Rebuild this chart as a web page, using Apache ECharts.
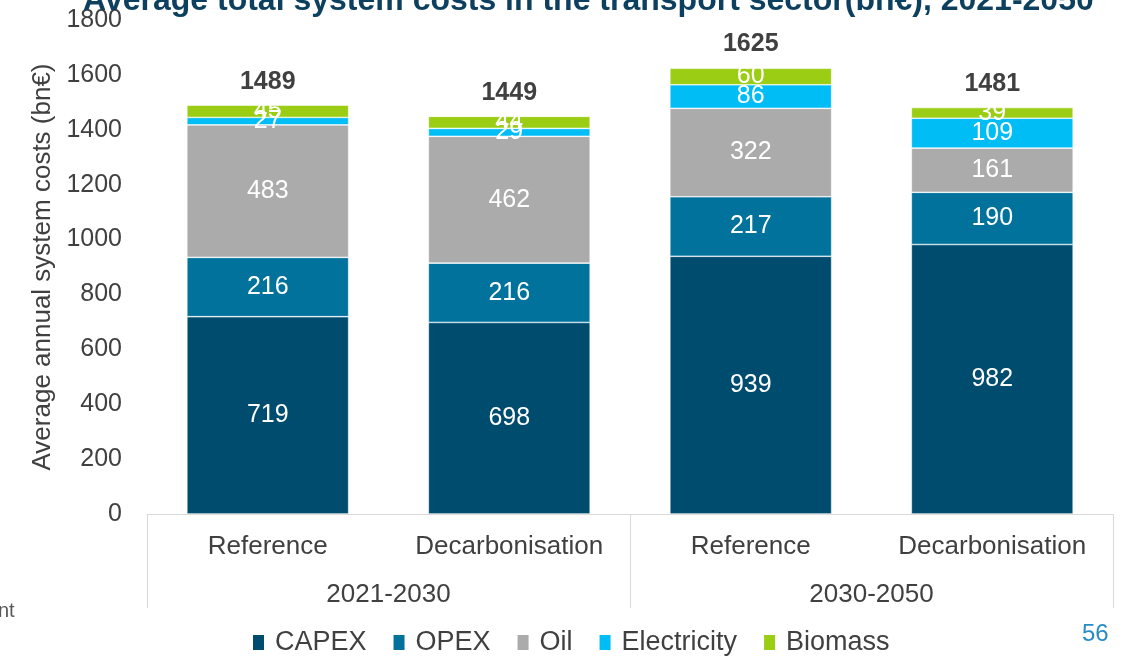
<!DOCTYPE html>
<html>
<head>
<meta charset="utf-8">
<script src="https://cdn.jsdelivr.net/npm/echarts@6/dist/echarts.min.js"></script>
<style>
  html, body { margin: 0; padding: 0; background: #fff; }
  #chart { width: 1127px; height: 657px; }
</style>
</head>
<body>
<div id="chart"></div>
<script>
// Scenario columns and their period groups
const scenarios = ['Reference', 'Decarbonisation', 'Reference', 'Decarbonisation'];
const periods = ['2021-2030', '2030-2050'];

// Average annual system cost components (bn€)
const capex = [719, 698, 939, 982];
const opex = [216, 216, 217, 190];
const oil = [483, 462, 322, 161];
const electricity = [27, 29, 86, 109];
const biomass = [45, 44, 60, 39];
const totals = [1489, 1449, 1625, 1481];

const yTicks = { min: 0, max: 1800, interval: 200 };

const FONT = '"Liberation Sans", Arial, sans-serif';
const TEXT = '#404040';
const AXIS = '#d9d9d9';

const chart = echarts.init(document.getElementById('chart'));

function stackSeries(name, data, color) {
  return {
    name: name,
    type: 'bar',
    stack: 'cost',
    xAxisIndex: 0,
    barWidth: '67%',
    data: data,
    itemStyle: { color: color, borderColor: '#ffffff', borderWidth: 0.6 },
    label: {
      show: true,
      position: 'inside',
      color: '#ffffff',
      fontFamily: FONT,
      fontSize: 25
    }
  };
}

chart.setOption({
  animation: false,
  textStyle: { fontFamily: FONT },
  title: {
    text: 'Average total system costs in the transport sector(bn€), 2021-2050',
    left: 78,
    top: -20,
    textStyle: { fontFamily: FONT, fontSize: 32, fontWeight: 'bold', color: '#0d3f5e' }
  },
  grid: { left: 147, right: 14, top: 20, bottom: 143 },
  legend: {
    bottom: -4,
    left: 248,
    icon: 'rect',
    symbolKeepAspect: false,
    itemWidth: 11,
    itemHeight: 15,
    itemGap: 27,
    itemStyle: { borderWidth: 0 },
    data: ['CAPEX', 'OPEX', 'Oil', 'Electricity', 'Biomass'],
    textStyle: { fontFamily: FONT, fontSize: 27, color: TEXT, padding: [0, 0, 0, 6] }
  },
  xAxis: [
    {
      type: 'category',
      data: scenarios,
      position: 'bottom',
      axisLine: { show: true, lineStyle: { color: AXIS, width: 1 } },
      axisTick: { show: false },
      axisLabel: { interval: 0, margin: 20, fontFamily: FONT, fontSize: 26, color: TEXT }
    },
    {
      type: 'category',
      data: periods,
      position: 'bottom',
      axisLine: { show: false },
      axisTick: { show: true, interval: 0, length: 94, lineStyle: { color: AXIS, width: 1 } },
      axisLabel: { interval: 0, margin: 68, fontFamily: FONT, fontSize: 26, color: TEXT }
    }
  ],
  yAxis: {
    type: 'value',
    min: yTicks.min,
    max: yTicks.max,
    interval: yTicks.interval,
    name: 'Average annual system costs (bn€)',
    nameLocation: 'middle',
    nameGap: 90,
    nameTextStyle: { fontFamily: FONT, fontSize: 26, color: TEXT },
    axisLine: { show: false },
    axisTick: { show: false },
    splitLine: { show: false },
    axisLabel: {
      margin: 25,
      fontFamily: FONT,
      fontSize: 25,
      color: TEXT,
      formatter: function (v) { return String(v); }
    }
  },
  series: [
    stackSeries('CAPEX', capex, '#004c6f'),
    stackSeries('OPEX', opex, '#00729b'),
    stackSeries('Oil', oil, '#ababab'),
    stackSeries('Electricity', electricity, '#00bdf6'),
    stackSeries('Biomass', biomass, '#9bcd14'),
    {
      name: 'Total',
      type: 'bar',
      xAxisIndex: 0,
      barWidth: '67%',
      barGap: '-100%',
      z: 1,
      data: totals,
      itemStyle: { color: 'rgba(0,0,0,0)' },
      label: {
        show: true,
        position: 'top',
        distance: 11,
        color: TEXT,
        fontFamily: FONT,
        fontSize: 25,
        fontWeight: 'bold'
      }
    }
  ],
  graphic: [
    {
      type: 'text',
      left: -2,
      top: 601,
      style: { text: 'nt', fontFamily: FONT, fontSize: 20, fill: '#595959' }
    },
    {
      type: 'text',
      left: 1082,
      top: 622,
      style: { text: '56', fontFamily: FONT, fontSize: 24, fill: '#2a8cc4' }
    }
  ]
});
</script>
</body>
</html>
